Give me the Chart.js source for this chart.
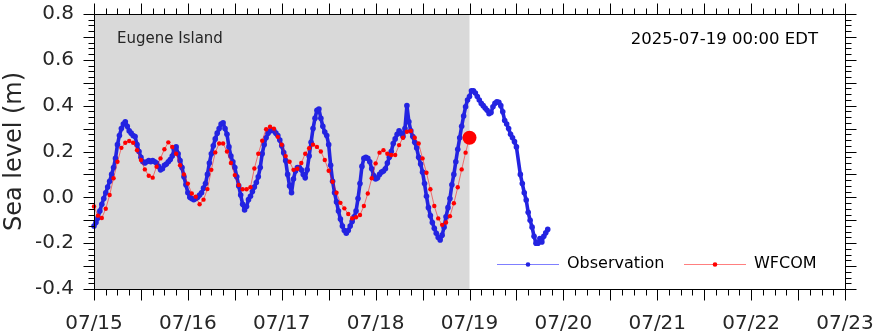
<!DOCTYPE html>
<html>
<head>
<meta charset="utf-8">
<script src="https://cdn.jsdelivr.net/npm/chart.js@4.4.1/dist/chart.umd.min.js"></script>
<style>
  html, body { margin: 0; padding: 0; background: #fff; }
</style>
</head>
<body>
<canvas id="levelChart" width="876" height="334"></canvas>
<script>
const stationName = "Eugene Island";
const nowLabel = "2025-07-19 00:00 EDT";
const dayLabels = ["07/15", "07/16", "07/17", "07/18", "07/19", "07/20", "07/21", "07/22", "07/23"];
const forecastStartHour = 96; // 07/19 00:00

// observed water level, every 30 min from 07/15 00:00 (null = missing)
const obsStepHours = 0.5;
const obsLevel = [
  -0.125, -0.11, -0.09, -0.06, -0.03, -0.005, 0.02, 0.045, 0.07, 0.10, 0.13, 0.17,
  0.23, 0.27, 0.30, 0.32, 0.33, 0.31, 0.29, 0.28, 0.27, 0.265, 0.23, 0.20,
  0.175, 0.155, 0.15, 0.155, 0.16, 0.155, 0.16, 0.155, 0.15, 0.135, 0.12, 0.125,
  0.14, 0.145, 0.155, 0.165, 0.18, 0.21, 0.22, 0.19, 0.16, 0.13, 0.09, 0.055,
  0.02, 0.0, -0.005, -0.01, -0.005, 0.0, 0.01, 0.02, 0.04, 0.06, 0.10, 0.15,
  0.19, 0.225, 0.255, 0.28, 0.30, 0.32, 0.325, 0.30, 0.275, 0.22, 0.18, 0.155,
  0.13, 0.09, 0.05, 0.01, -0.03, -0.055, -0.04, -0.01, 0.005, 0.025, 0.045, 0.065,
  0.09, 0.13, 0.19, 0.23, 0.26, 0.28, 0.29, 0.295, 0.29, 0.28, 0.27, 0.25,
  0.225, 0.195, 0.16, 0.10, 0.05, 0.02, 0.08, 0.115, 0.13, 0.13, 0.12, 0.10,
  0.085, 0.12, 0.18, 0.24, 0.30, 0.345, 0.38, 0.385, 0.345, 0.31, 0.285, 0.27,
  0.23, 0.14, 0.07, 0.02, -0.02, -0.06, -0.095, -0.125, -0.145, -0.157, -0.145, -0.125,
  -0.105, -0.085, -0.06, -0.005, 0.06, 0.135, 0.17, 0.175, 0.17, 0.155, 0.125, 0.095,
  0.08, 0.085, 0.10, 0.11, 0.115, 0.125, 0.15, 0.175, 0.20, 0.235, 0.255, 0.275,
  0.29, 0.28, 0.265, 0.30, 0.40, 0.33, 0.29, 0.265, 0.24, 0.215, 0.175, 0.145,
  0.11, 0.06, 0.005, -0.045, -0.08, -0.11, -0.135, -0.157, -0.175, -0.186, -0.165, -0.13,
  -0.085, -0.045, -0.005, 0.055, 0.10, 0.155, 0.21, 0.26, 0.31, 0.355, 0.395, 0.425,
  0.44, 0.465, 0.465, 0.455, 0.44, 0.425, 0.41, 0.40, 0.39, 0.38, 0.365, 0.37,
  0.395, 0.41, 0.417, 0.415, 0.40, 0.373, 0.335, 0.32, 0.30, 0.275, 0.26, 0.243,
  0.22, null, 0.10, 0.06, 0.02, -0.012, -0.065, -0.10, -0.13, -0.17, -0.20, -0.20,
  -0.18, -0.195, -0.17, -0.155, -0.14
];

// WFCOM nowcast, hourly from 07/15 00:00 to 07/19 00:00
const wfcomLevel = [
  -0.04, -0.08, -0.09, -0.05, 0.01, 0.083, 0.155, 0.216, 0.238, 0.246, 0.238, 0.206,
  0.163, 0.122, 0.094, 0.086, 0.134, 0.17, 0.21, 0.24, 0.22, 0.19, 0.14, 0.10,
  0.06, 0.017, 0.003, -0.03, -0.01, 0.036, 0.12, 0.196, 0.235, 0.235, 0.20, 0.15,
  0.097, 0.054, 0.035, 0.035, 0.044, 0.126, 0.19, 0.247, 0.297, 0.308, 0.30, 0.264,
  0.23, 0.18, 0.155, 0.12, 0.125, 0.15, 0.19, 0.214, 0.23, 0.22, 0.20, 0.163,
  0.116, 0.068, 0.02, -0.024, -0.048, -0.073, -0.092, -0.087, -0.077, -0.038, 0.017, 0.083,
  0.148, 0.195, 0.206, 0.19, 0.185, 0.185, 0.228, 0.26, 0.286, 0.29, 0.26, 0.235,
  0.17, 0.107, 0.035, -0.038, -0.092, -0.12, -0.11, -0.082, -0.026, 0.044, 0.122, 0.195,
  0.26
];

const FONT = "'DejaVu Sans', sans-serif";
const TEXT = '#262626';
const OBS_DOT = 'rgb(35,35,225)';
const OBS_LINE = 'rgba(0,0,255,0.5)';
const MOD_DOT = 'rgb(255,0,0)';
const MOD_LINE = 'rgba(255,0,0,0.5)';

// grey band over the hindcast period
const hindcastShade = {
  id: 'hindcastShade',
  beforeDatasetsDraw(chart) {
    const { ctx, chartArea: a, scales: { x } } = chart;
    const x0 = x.getPixelForValue(0);
    const x1 = x.getPixelForValue(forecastStartHour);
    ctx.save();
    ctx.fillStyle = 'rgb(217,217,217)';
    ctx.fillRect(x0, a.top, x1 - x0, a.bottom - a.top);
    ctx.restore();
  }
};

// boxed axes with outward ticks on all four sides, plus labels and legend
const frame = {
  id: 'frame',
  afterDraw(chart) {
    const { ctx, chartArea: a, scales: { x, y } } = chart;
    const L = Math.round(a.left) + 0.5, R = Math.round(a.right) + 0.5;
    const T = Math.round(a.top) + 0.5, B = Math.round(a.bottom) + 0.5;
    ctx.save();
    ctx.strokeStyle = '#000';
    ctx.lineWidth = 1;
    ctx.beginPath();
    ctx.rect(L, T, R - L, B - T);
    for (let h = 0; h <= 192; h += 3) {
      const px = Math.round(x.getPixelForValue(h)) + 0.5;
      const len = h % 12 === 0 ? 11 : 6;
      ctx.moveTo(px, B); ctx.lineTo(px, B + len);
      ctx.moveTo(px, T); ctx.lineTo(px, T - len);
    }
    for (let k = -16; k <= 32; k++) {
      const py = Math.round(y.getPixelForValue(k * 0.025)) + 0.5;
      const len = k % 4 === 0 ? 11 : 6;
      ctx.moveTo(L, py); ctx.lineTo(L - len, py);
      ctx.moveTo(R, py); ctx.lineTo(R + len, py);
    }
    ctx.stroke();

    ctx.fillStyle = TEXT;
    ctx.textBaseline = 'alphabetic';
    ctx.font = '15px ' + FONT;
    ctx.textAlign = 'left';
    ctx.fillText(stationName, 117, 43);
    ctx.fillStyle = '#000';
    ctx.font = '16.5px ' + FONT;
    ctx.textAlign = 'right';
    ctx.fillText(nowLabel, 818, 44);

    // legend
    const items = [
      { label: 'Observation', line: OBS_LINE, dot: OBS_DOT, x0: 497 },
      { label: 'WFCOM', line: MOD_LINE, dot: MOD_DOT, x0: 684 }
    ];
    const ly = 264.5;
    ctx.font = '16px ' + FONT;
    ctx.textAlign = 'left';
    ctx.textBaseline = 'middle';
    items.forEach(it => {
      ctx.strokeStyle = it.line;
      ctx.beginPath();
      ctx.moveTo(it.x0, ly); ctx.lineTo(it.x0 + 62, ly);
      ctx.stroke();
      ctx.fillStyle = it.dot;
      ctx.beginPath();
      ctx.arc(it.x0 + 31, ly, 2.3, 0, Math.PI * 2);
      ctx.fill();
      ctx.fillStyle = '#000';
      ctx.fillText(it.label, it.x0 + 70, ly - 1);
    });
    ctx.restore();
  }
};

// fixed axis boxes, no label overhang padding
function fixBox(size) {
  return s => {
    if (s.isHorizontal()) s.height = size; else s.width = size;
    s.paddingTop = s.paddingBottom = s.paddingLeft = s.paddingRight = 0;
  };
}

const lastModel = wfcomLevel[wfcomLevel.length - 1];

new Chart(document.getElementById('levelChart'), {
  type: 'line',
  data: {
    datasets: [
      {
        label: 'now',
        data: [{ x: forecastStartHour, y: lastModel }],
        showLine: false,
        pointRadius: 7,
        pointBorderWidth: 0,
        pointBackgroundColor: MOD_DOT,
        clip: false,
        order: 0
      },
      {
        label: 'WFCOM',
        data: wfcomLevel.map((v, i) => ({ x: i, y: v })),
        borderColor: MOD_LINE,
        borderWidth: 1,
        pointRadius: 2.2,
        pointBorderWidth: 0,
        pointBackgroundColor: MOD_DOT,
        clip: false,
        order: 1
      },
      {
        label: 'Observation',
        data: obsLevel.map((v, i) => ({ x: i * obsStepHours, y: v })),
        borderColor: OBS_DOT,
        borderWidth: 3.6,
        borderCapStyle: 'round',
        borderJoinStyle: 'round',
        pointRadius: 2.8,
        pointBorderWidth: 0,
        pointBackgroundColor: OBS_DOT,
        spanGaps: true,
        // thin connector across missing samples
        segment: {
          borderWidth: c => (c.p1DataIndex - c.p0DataIndex > 1 ? 1 : undefined),
          borderColor: c => (c.p1DataIndex - c.p0DataIndex > 1 ? OBS_LINE : undefined)
        },
        clip: false,
        order: 2
      }
    ]
  },
  options: {
    responsive: false,
    animation: false,
    events: [],
    layout: { autoPadding: false, padding: { left: 0, right: 31, top: 14, bottom: 0 } },
    plugins: { legend: { display: false }, tooltip: { enabled: false } },
    scales: {
      x: {
        type: 'linear',
        min: 0,
        max: 192,
        grid: { display: false, drawTicks: false },
        border: { display: false },
        afterBuildTicks: s => { s.ticks = dayLabels.map((_, i) => ({ value: i * 24 })); },
        afterFit: fixBox(45),
        ticks: {
          autoSkip: false,
          maxRotation: 0,
          padding: 23,
          color: TEXT,
          font: { family: FONT, size: 20 },
          callback: (v, i) => dayLabels[i]
        }
      },
      y: {
        min: -0.4,
        max: 0.8,
        grid: { display: false, drawTicks: false },
        border: { display: false },
        afterFit: fixBox(94),
        ticks: {
          stepSize: 0.2,
          padding: 20,
          color: TEXT,
          font: { family: FONT, size: 20 },
          callback: v => (Math.abs(v) < 1e-9 ? 0 : v).toFixed(1)
        },
        title: {
          display: true,
          text: 'Sea level (m)',
          color: TEXT,
          font: { family: FONT, size: 24 },
          padding: 0
        }
      }
    }
  },
  plugins: [hindcastShade, frame]
});
</script>
</body>
</html>
